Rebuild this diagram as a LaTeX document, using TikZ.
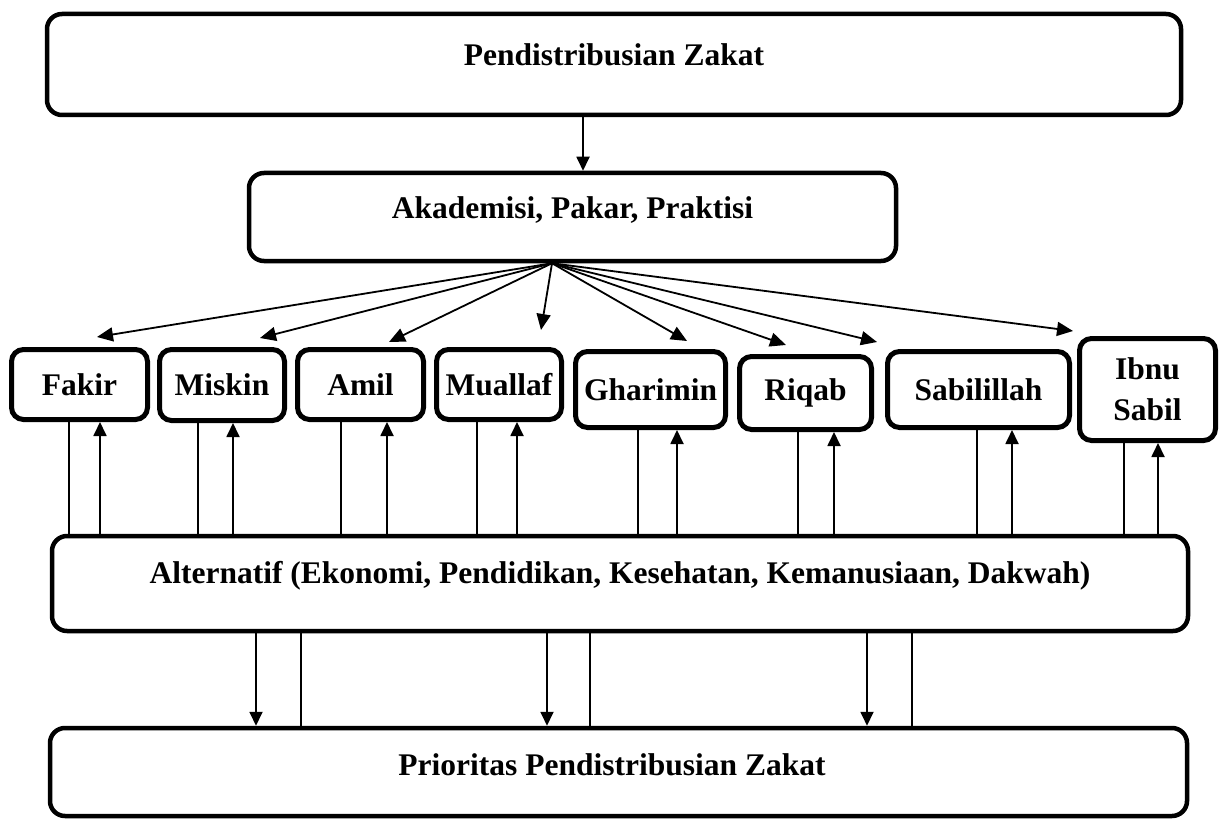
\documentclass[tikz,border=0pt]{standalone}
\usepackage{fontspec}
\setmainfont{Liberation Serif}
\usetikzlibrary{arrows.meta}
\begin{document}
\begin{tikzpicture}[x=1pt,y=-1pt,
  bigbox/.style={draw, line width=4.5pt, rounded corners=15pt, inner sep=0pt},
  smallbox/.style={draw, line width=5pt, rounded corners=12pt, inner sep=0pt, align=center,
    font=\bfseries\fontsize{31.5}{41}\selectfont},
  lbl/.style={anchor=base, inner sep=0pt, font=\bfseries\fontsize{31.5}{41}\selectfont},
  fanarrow/.style={line width=1.8pt, -{Triangle[length=16pt,width=14pt]}},
  vline/.style={line width=1.5pt},
  varrow/.style={line width=1.8pt, -{Triangle[length=14pt,width=13pt]}}]
\useasboundingbox (0,0) rectangle (1225,821);

% big boxes
\node[bigbox, minimum width=1134pt, minimum height=101pt] (top) at (614,64.5) {};
\node[lbl] (toplbl) at (614,66) {Pendistribusian Zakat};
\node[bigbox, minimum width=647pt, minimum height=88pt] (akad) at (572.5,217) {};
\node[lbl] (akadlbl) at (572.5,218) {Akademisi, Pakar, Praktisi};
\node[bigbox, minimum width=1136pt, minimum height=95pt] (alt) at (620,583.5) {};
\node[lbl] (altlbl) at (620,583) {Alternatif (Ekonomi, Pendidikan, Kesehatan, Kemanusiaan, Dakwah)};
\node[bigbox, minimum width=1137pt, minimum height=88pt] (prio) at (618.5,772) {};
\node[lbl] (priolbl) at (612,775) {Prioritas Pendistribusian Zakat};

% small boxes
\node[smallbox, minimum width=136pt, minimum height=70pt] (fakir) at (79.5,384.5) {Fakir};
\node[smallbox, minimum width=125pt, minimum height=71pt] (miskin) at (222,385) {Miskin};
\node[smallbox, minimum width=126pt, minimum height=70pt] (amil) at (360.5,384.5) {Amil};
\node[smallbox, minimum width=125pt, minimum height=70pt] (muallaf) at (499,384.5) {Muallaf};
\node[smallbox, minimum width=150pt, minimum height=76pt] (gharimin) at (650.5,389.5) {Gharimin};
\node[smallbox, minimum width=132pt, minimum height=73pt] (riqab) at (805.5,393) {Riqab};
\node[smallbox, minimum width=182pt, minimum height=76pt] (sabil) at (978.5,389.5) {Sabilillah};
\node[smallbox, minimum width=136pt, minimum height=102pt] (ibnu) at (1147.5,389.5) {\raisebox{-8pt}{Ibnu}\\\raisebox{-8pt}{Sabil}};

% top arrow
\draw[varrow] (583,0 |- top.south) -- (583,0 |- akad.north);

% fan
\coordinate (fan) at ([xshift=-20.5pt]akad.south);
\coordinate (tfakir) at (97,337);
\coordinate (tmiskin) at (260,338);
\coordinate (tamil) at (389,342);
\coordinate (tmuallaf) at (541,330);
\coordinate (tgharimin) at (687,341);
\coordinate (triqab) at (786,345);
\coordinate (tsabil) at (877,342);
\coordinate (tibnu) at (1073,331);
\foreach \t in {tfakir,tmiskin,tamil,tmuallaf,tgharimin,triqab,tsabil,tibnu}
  \draw[fanarrow] (fan) -- (\t);

% small boxes <-> alternatif
\foreach \n/\a/\b in {fakir/69/100, miskin/198/233, amil/341/387, muallaf/477/517,
    gharimin/638/677, riqab/798/834, sabil/977/1012, ibnu/1124/1158} {
  \draw[vline] (\a,0 |- \n.south) -- (\a,0 |- alt.north);
  \draw[varrow] (\b,0 |- alt.north) -- (\b,0 |- \n.south);
}

% alternatif <-> prioritas
\foreach \a/\b in {256/301, 547/590, 867/912} {
  \draw[varrow] (\a,0 |- alt.south) -- (\a,0 |- prio.north);
  \draw[vline] (\b,0 |- alt.south) -- (\b,0 |- prio.north);
}
\end{tikzpicture}
\end{document}
